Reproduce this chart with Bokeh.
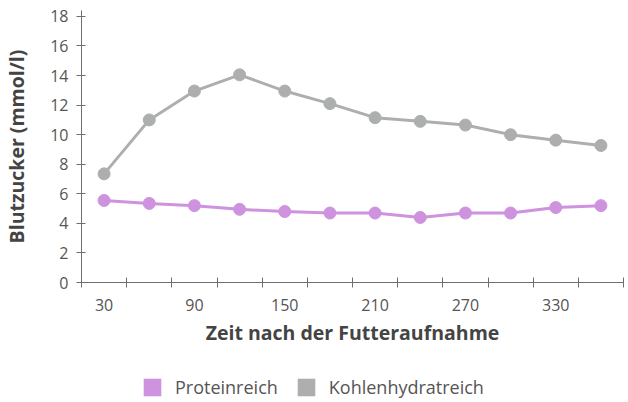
from bokeh.plotting import figure
from bokeh.models import Range1d, FixedTicker, Legend, LegendItem, ColumnDataSource
from bokeh.layouts import column
from bokeh.embed import file_html
from bokeh.resources import INLINE

# ---- data ----
minutes = [30, 60, 90, 120, 150, 180, 210, 240, 270, 300, 330, 360]
protein = [5.55, 5.35, 5.2, 4.95, 4.8, 4.7, 4.7, 4.4, 4.7, 4.7, 5.07, 5.2]
carb = [7.35, 11.0, 12.95, 14.05, 12.95, 12.1, 11.15, 10.9, 10.65, 10.0, 9.63, 9.27]
series_names = ["Proteinreich", "Kohlenhydratreich"]
x_tick_labels = [30, 90, 150, 210, 270, 330]
y_ticks = [0, 2, 4, 6, 8, 10, 12, 14, 16, 18]
x_bounds = [15, 45, 75, 105, 135, 165, 195, 225, 255, 285, 315, 345, 375]

PROT = "#CE92DE"
CARB = "#ADAFAE"
AXIS = "#6f6f6f"
FONT = "Open Sans"

p = figure(width=626, height=362, output_backend="svg", toolbar_location=None,
           x_range=Range1d(15, 375), y_range=Range1d(0, 18.4),
           min_border_left=78, min_border_right=3, min_border_top=10, min_border_bottom=80)
p.outline_line_color = None
p.grid.visible = False
p.background_fill_color = "white"
p.border_fill_color = "white"

src = ColumnDataSource(dict(x=minutes, protein=protein, carb=carb))

p.line("x", "carb", source=src, line_color=CARB, line_width=3)
p.scatter("x", "carb", source=src, size=12, fill_color=CARB, line_color=CARB)
p.line("x", "protein", source=src, line_color=PROT, line_width=3)
p.scatter("x", "protein", source=src, size=12, fill_color=PROT, line_color=PROT)

# x axis
xa = p.xaxis[0]
xa.ticker = FixedTicker(ticks=x_tick_labels, minor_ticks=x_bounds)
xa.major_tick_in = 5
xa.major_tick_out = 5
xa.major_tick_line_color = None
xa.minor_tick_in = 5
xa.minor_tick_out = 5
xa.minor_tick_line_color = AXIS
xa.minor_tick_line_width = 1
xa.axis_line_color = AXIS
xa.major_label_text_font = FONT
xa.major_label_text_font_size = "16px"
xa.major_label_text_color = "#555555"
xa.major_label_standoff = 11
xa.axis_label = "Zeit nach der Futteraufnahme"
xa.axis_label_text_font = FONT
xa.axis_label_text_font_style = "bold"
xa.axis_label_text_font_size = "19.5px"
xa.axis_label_text_color = "#444444"
xa.axis_label_standoff = 5

# y axis
ya = p.yaxis[0]
ya.ticker = FixedTicker(ticks=y_ticks)
ya.major_tick_in = 4
ya.major_tick_out = 5
ya.minor_tick_line_color = None
ya.major_tick_line_color = AXIS
ya.axis_line_color = AXIS
ya.major_label_text_font = FONT
ya.major_label_text_font_size = "16px"
ya.major_label_text_color = "#555555"
ya.major_label_standoff = 8
ya.axis_label = "Blutzucker (mmol/l)"
ya.axis_label_text_font = FONT
ya.axis_label_text_font_style = "bold"
ya.axis_label_text_font_size = "19.5px"
ya.axis_label_text_color = "#444444"
ya.axis_label_standoff = 17

# legend strip below the chart (swatches are legend-only, hidden renderers)
p2 = figure(width=626, height=38, output_backend="svg", toolbar_location=None,
            x_axis_location=None, y_axis_location=None,
            x_range=Range1d(0, 1), y_range=Range1d(0, 1),
            min_border_left=0, min_border_right=0, min_border_top=0, min_border_bottom=0)
p2.outline_line_color = None
p2.grid.visible = False
sw_src = ColumnDataSource(dict(l=[0], r=[1], b=[0], t=[1]))
q1 = p2.quad(left="l", right="r", bottom="b", top="t", source=sw_src,
             fill_color=PROT, line_color=None)
q2 = p2.quad(left="l", right="r", bottom="b", top="t", source=sw_src,
             fill_color=CARB, line_color=None)
q1.visible = False
q2.visible = False

legend = Legend(items=[LegendItem(label=series_names[0], renderers=[q1]),
                       LegendItem(label=series_names[1], renderers=[q2])],
                orientation="horizontal", location=(60, 1),
                glyph_width=22, glyph_height=22, label_height=22,
                label_standoff=12, spacing=17, padding=0, margin=0,
                border_line_color=None, background_fill_alpha=0,
                inactive_fill_alpha=0,
                label_text_font=FONT, label_text_font_size="18px",
                label_text_color="#555555")
p2.add_layout(legend, "center")

open("out.html", "w").write(file_html(column(p, p2, spacing=0), INLINE))
